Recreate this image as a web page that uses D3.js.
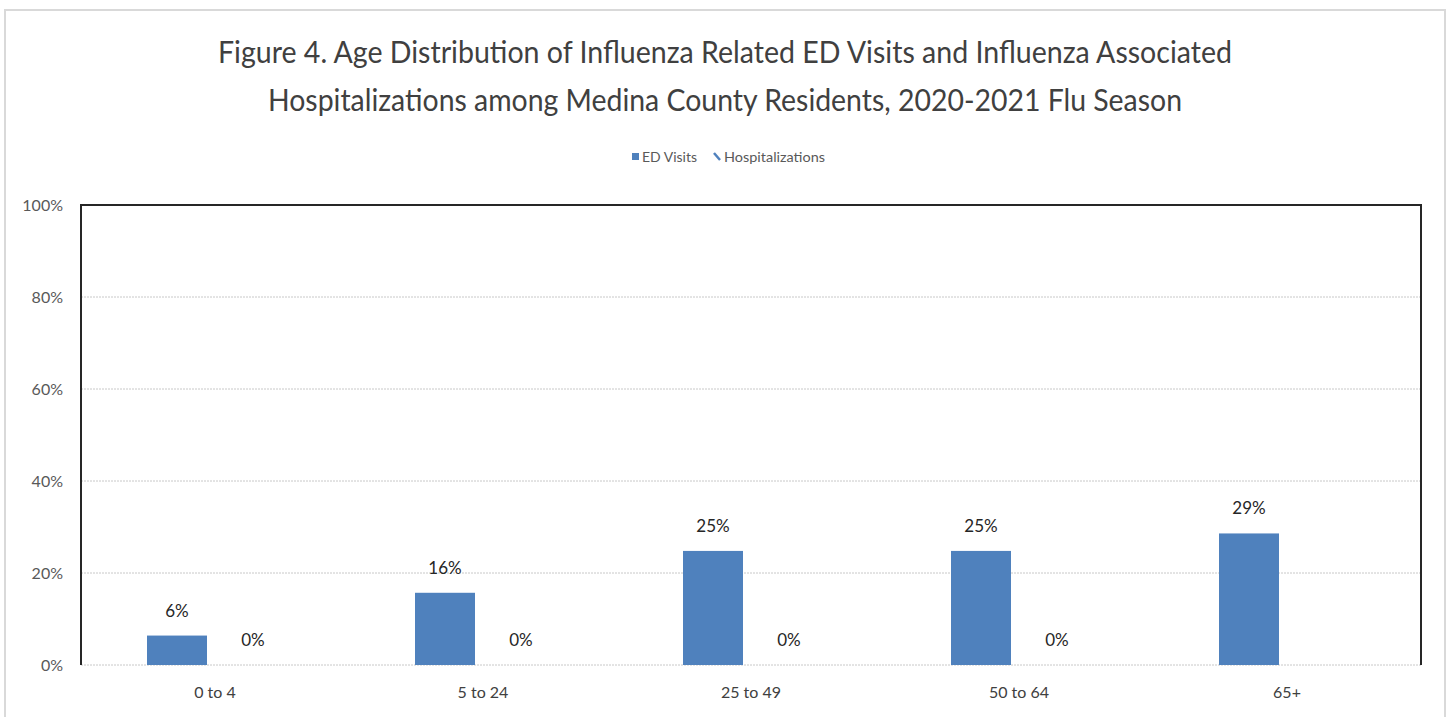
<!DOCTYPE html>
<html><head><meta charset="utf-8">
<script src="https://cdn.jsdelivr.net/npm/d3@7"></script>
<style>
html,body{margin:0;padding:0;background:#fff;}
svg{display:block;font-family:Lato,"Open Sans",sans-serif;}
</style></head>
<body>
<svg id="chart" width="1447" height="717"></svg>
<script>
const titleLines = ["Figure 4. Age Distribution of Influenza Related ED Visits and Influenza Associated",
                    "Hospitalizations among Medina County Residents, 2020-2021 Flu Season"];
const categories = ["0 to 4", "5 to 24", "25 to 49", "50 to 64", "65+"];
const seriesNames = ["ED Visits", "Hospitalizations"];
const edVisits = [0.064, 0.157, 0.248, 0.248, 0.286];
const hospitalizations = [0, 0, 0, 0, null];
const yTicks = [0, 0.2, 0.4, 0.6, 0.8, 1.0];

const svg = d3.select("#chart");
const W = 1447, H = 717;
const m = {left: 81, right: 1421, top: 205, bottom: 665};

// outer border
svg.append("path")
  .attr("d", `M5,${H+2} V10 H1445 V${H+2}`)
  .attr("fill","none").attr("stroke","#d9d9d9").attr("stroke-width",2);

// title
const titleW = [1014, 914];
svg.selectAll(".title").data(titleLines).join("text")
  .attr("x", 725).attr("y", (d,i)=> 63 + i*48)
  .attr("text-anchor","middle")
  .attr("font-size", 30).attr("fill","#404040")
  .attr("textLength",(d,i)=>titleW[i]).attr("lengthAdjust","spacingAndGlyphs")
  .text(d=>d);

const x0 = d3.scaleBand().domain(categories).range([m.left, m.right]).padding(0);
const x1 = d3.scaleBand().domain(seriesNames).range([-68, 68]).paddingInner(16/76).paddingOuter(0);
const y = d3.scaleLinear().domain([0,1]).range([m.bottom, m.top]);

// gridlines
svg.append("g").selectAll("line").data(yTicks).join("line")
  .attr("x1", m.left).attr("x2", m.right)
  .attr("y1", d=>y(d)).attr("y2", d=>y(d))
  .attr("stroke","#c8c8c8").attr("stroke-width",1).attr("stroke-dasharray","2,1");

// y axis labels
const yAxis = d3.axisLeft(y).tickValues(yTicks).tickFormat(d3.format(".0%")).tickSize(0).tickPadding(18);
const ya = svg.append("g").attr("transform",`translate(${m.left},0)`).call(yAxis);
ya.select(".domain").remove();
ya.selectAll("text").attr("font-size",16).attr("fill","#595959").attr("font-family","Lato,'Open Sans',sans-serif").attr("dy","0.35em");

// x axis labels
const xAxis = d3.axisBottom(x0).tickSize(0).tickPadding(22);
const xa = svg.append("g").attr("transform",`translate(0,${m.bottom})`).call(xAxis);
xa.select(".domain").remove();
xa.selectAll("text").attr("font-size",16).attr("fill","#404040").attr("font-family","Lato,'Open Sans',sans-serif");

// pattern for hospitalizations
const defs = svg.append("defs");
const pat = defs.append("pattern").attr("id","hosp").attr("patternUnits","userSpaceOnUse").attr("width",6).attr("height",6);
pat.append("path").attr("d","M0,0 L6,6").attr("stroke","#4f81bd").attr("stroke-width",2);

const rows = categories.map((c,i)=>({cat:c, vals:[{s:"ED Visits", v:edVisits[i]},{s:"Hospitalizations", v:hospitalizations[i]}]}));
const g = svg.append("g").selectAll("g").data(rows).join("g")
  .attr("transform", d=>`translate(${x0(d.cat)+x0.bandwidth()/2},0)`);

g.selectAll("rect").data(d=>d.vals.filter(v=>v.v!==null)).join("rect")
  .attr("x", d=>x1(d.s)).attr("width", x1.bandwidth())
  .attr("y", d=>y(d.v)).attr("height", d=>y(0)-y(d.v))
  .attr("fill", d=> d.s==="ED Visits" ? "#4f81bd" : "url(#hosp)");

g.selectAll("text.lbl").data(d=>d.vals.filter(v=>v.v!==null)).join("text")
  .attr("class","lbl")
  .attr("x", d=>x1(d.s)+x1.bandwidth()/2)
  .attr("y", d=>y(d.v)-19)
  .attr("text-anchor","middle").attr("font-size",17).attr("fill","#262626")
  .text(d=>d3.format(".0%")(d.v));

// plot border: left, top, right
svg.append("path")
  .attr("d", `M${m.left},${m.bottom} V${m.top} H${m.right} V${m.bottom}`)
  .attr("fill","none").attr("stroke","#262626").attr("stroke-width",2);

// legend
const lg = svg.append("g").attr("font-size",13.5).attr("fill","#595959");
lg.append("rect").attr("x",632).attr("y",153).attr("width",7).attr("height",7).attr("fill","#4f81bd");
lg.append("text").attr("x",642).attr("y",162).attr("textLength",55).attr("lengthAdjust","spacingAndGlyphs").text(seriesNames[0]);
lg.append("line").attr("x1",714).attr("y1",153).attr("x2",720).attr("y2",160).attr("stroke","#4f81bd").attr("stroke-width",2.5);
lg.append("text").attr("x",724).attr("y",162).attr("textLength",101).attr("lengthAdjust","spacingAndGlyphs").text(seriesNames[1]);
</script>
</body></html>
